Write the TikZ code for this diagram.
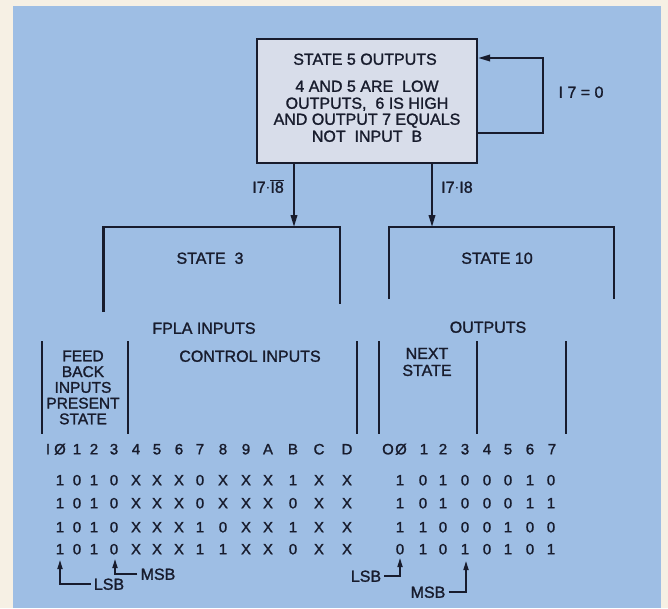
\documentclass[tikz,border=0pt]{standalone}
\usepackage{fontspec}
\setmainfont{Liberation Sans}[FakeBold=1.3,BoldFont=Liberation Sans,BoldFeatures={FakeBold=1.3}]
\newfontfamily\lettering{Liberation Sans}[FakeBold=1.4]
\usetikzlibrary{arrows.meta}
\definecolor{paper}{RGB}{246,240,228}
\definecolor{panel}{RGB}{158,190,228}
\definecolor{boxfill}{RGB}{216,221,234}
\definecolor{ink}{RGB}{24,28,45}
\begin{document}
\begin{tikzpicture}[x=1pt,y=-1pt,
  lbl/.style={inner sep=0pt, text=ink, font=\lettering\fontsize{16}{18}\selectfont, text height=11.5pt, text depth=0pt},
  mlbl/.style={inner sep=0pt, text=ink, align=center},
  tbl/.style={inner sep=0pt, text=ink, font=\lettering\fontsize{15}{17}\selectfont, text height=10.7pt, text depth=0pt},
  ln/.style={draw=ink, line width=2.2pt},
  arr/.style={draw=ink, line width=2pt, -{Triangle[length=12pt,width=6.5pt]}},
  sarr/.style={draw=ink, line width=1.6pt, -{Triangle[length=9pt,width=5pt]}},
  tag/.style={inner sep=3pt, text=ink, font=\lettering\fontsize{16}{18}\selectfont, text height=11.5pt, text depth=0pt}]
\useasboundingbox (0,0) rectangle (668,608);
\fill[paper] (0,0) rectangle (668,608);
\fill[panel] (13,6) rectangle (661,608);

% main state box
\node[draw=ink, line width=2.3pt, fill=boxfill, minimum width=220pt, minimum height=124pt, inner sep=0pt] (s5) at (367,101) {};
\node[lbl] (t1) at (365,59) {STATE 5 OUTPUTS};
\node[lbl] (t2) at (367,86) {4 AND 5 ARE\ \ LOW};
\node[lbl] (t3) at (367,103) {OUTPUTS,\ \ 6 IS HIGH};
\node[lbl] (t4) at (367,119) {AND OUTPUT\ 7 EQUALS};
\node[lbl] (t5) at (367,136) {NOT\ \ INPUT\ \ B};

% self loop
\coordinate (lpb) at (543,133);
\coordinate (lpt) at (543,58);
\draw[arr] (s5.east |- lpb) -- (lpb) -- (lpt) -- (s5.east |- lpt);
\node[lbl] (i70) at (581,92) {I 7 = 0};

% bracket tops
\coordinate (b3) at (294,227);
\coordinate (b10) at (432,227);
\draw[arr] (s5.south -| b3) -- (b3);
\draw[arr] (s5.south -| b10) -- (b10);
\node[lbl, anchor=east] (c3) at (284,187) {I7$\cdot$$\overline{\mbox{I8}}$};
\node[lbl, anchor=west] (c10) at (441,187) {I7$\cdot$I8};

% state brackets
\draw[ln, line cap=butt] (103.5,312) -- (103.5,227) -- (340,227) -- (340,304);
\draw[ln, line cap=butt] (389,299) -- (389,227) -- (614,227) -- (614,299);
\node[lbl] (st3) at (210,258) {STATE\ \ 3};
\node[lbl] (st10) at (497,258) {STATE 10};

% headings
\node[lbl] (fpla) at (204,328) {FPLA INPUTS};
\node[lbl] (outs) at (488,327) {OUTPUTS};
\node[lbl] (ctrl) at (250,356) {CONTROL INPUTS};
\node[mlbl, font=\lettering\fontsize{15.5}{15.75}\selectfont] (feed) at (83,387.5) {FEED\\BACK\\INPUTS\\PRESENT\\STATE};
\node[mlbl, font=\lettering\fontsize{16}{17}\selectfont] (next) at (427,362) {NEXT\\STATE};

% column bars
\foreach \xx in {42,128,357,379,477,566}
  \draw[ln, line cap=butt] (\xx,341) -- (\xx,434);

% header row
\node[tbl] (hI) at (48,449) {I};
\foreach \xx/\t [count=\i] in {60/Ø,77/1,94/2,114/3,136/4,157/5,179/6,200/7,223/8,246/9,268/A,293/B,319/C,347/D}
  \node[tbl] (hl\i) at (\xx,449) {\t};
\node[tbl] (hO) at (388,449) {O};
\foreach \xx/\t [count=\i] in {401/Ø,424/1,443/2,465/3,487/4,508/5,530/6,552/7}
  \node[tbl] (hr\i) at (\xx,449) {\t};

% data, left (FPLA inputs)
\foreach \xx/\a/\b/\c/\d [count=\i] in {60/1/1/1/1,77/0/0/0/0,94/1/1/1/1,114/0/0/0/0,136/X/X/X/X,157/X/X/X/X,179/X/X/X/X,200/0/0/1/1,223/X/X/0/1,246/X/X/X/X,268/X/X/X/X,293/1/0/1/0,319/X/X/X/X,347/X/X/X/X}{
  \node[tbl] (l1-\i) at (\xx,480) {\a};
  \node[tbl] (l2-\i) at (\xx,503) {\b};
  \node[tbl] (l3-\i) at (\xx,527) {\c};
  \node[tbl] (l4-\i) at (\xx,549) {\d};
}
% data, right (outputs)
\foreach \xx/\a/\b/\c/\d [count=\i] in {400/1/1/1/0,423/0/0/1/1,443/1/1/0/0,465/0/0/0/1,487/0/0/0/0,508/0/0/1/1,530/1/1/0/0,551/0/1/0/1}{
  \node[tbl] (r1-\i) at (\xx,480) {\a};
  \node[tbl] (r2-\i) at (\xx,503) {\b};
  \node[tbl] (r3-\i) at (\xx,527) {\c};
  \node[tbl] (r4-\i) at (\xx,549) {\d};
}

% LSB / MSB markers
\node[tag] (lsbl) at (109,584) {LSB};
\node[tag] (msbl) at (158,574) {MSB};
\node[tag] (lsbr) at (366,576) {LSB};
\node[tag] (msbr) at (428,592) {MSB};
\coordinate (lsbltip) at (60,560);
\coordinate (msbltip) at (115,559);
\coordinate (lsbrtip) at (400,558);
\coordinate (msbrtip) at (466,561);
\draw[sarr] (lsbl.west) -| (lsbltip);
\draw[sarr] (msbl.west) -| (msbltip);
\draw[sarr] (lsbr.east) -| (lsbrtip);
\draw[sarr] (msbr.east) -| (msbrtip);
\end{tikzpicture}
\end{document}
